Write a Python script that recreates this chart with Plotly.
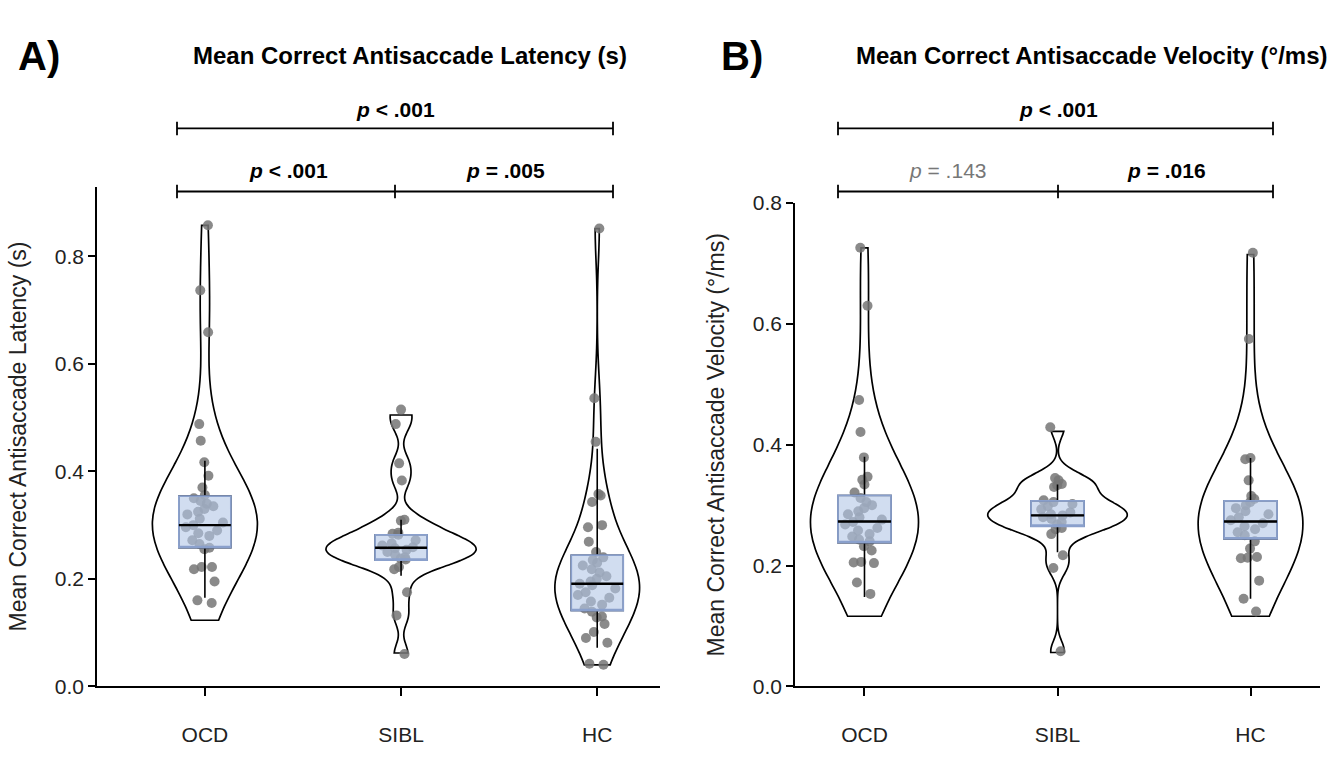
import plotly.graph_objects as go

W, H = 1337, 773
def px(x): return x / W
def py(y): return 1 - y / H

groups = ["OCD", "SIBL", "HC"]

# ---------------- Panel A: latency (s) ----------------
lat_OCD = [0.858, 0.737, 0.659, 0.488, 0.457, 0.417, 0.392, 0.370, 0.356,
           0.350, 0.345, 0.340, 0.335, 0.330, 0.325, 0.320, 0.312, 0.305, 0.300,
           0.296, 0.290, 0.285, 0.280, 0.272, 0.265,
           0.258, 0.255, 0.222, 0.222, 0.218, 0.195, 0.160, 0.155]
lat_SIBL = [0.515, 0.488, 0.415, 0.383, 0.310, 0.308, 0.286, 0.284, 0.282,
            0.272, 0.266, 0.262, 0.259, 0.257, 0.254, 0.250, 0.245, 0.240,
            0.238, 0.236, 0.222, 0.218, 0.175, 0.132, 0.060]
lat_HC = [0.852, 0.536, 0.455, 0.358, 0.355, 0.343, 0.300, 0.296, 0.269, 0.250,
          0.240, 0.235, 0.230, 0.225, 0.218, 0.212, 0.205, 0.200, 0.195, 0.191,
          0.188, 0.182, 0.175, 0.170, 0.165, 0.158, 0.152, 0.145,
          0.139, 0.130, 0.128, 0.116, 0.101, 0.090, 0.081, 0.042, 0.040]
lat_q1 = [0.258, 0.235, 0.141]
lat_med = [0.300, 0.258, 0.191]
lat_q3 = [0.354, 0.282, 0.244]
lat_wlo = [0.165, 0.206, 0.072]
lat_whi = [0.420, 0.310, 0.442]
lat_span_lo = [0.123, 0.062, 0.040]
lat_span_hi = [0.858, 0.505, 0.852]
lat_bw = [0.080, 0.020, 0.058]

# ---------------- Panel B: velocity (deg/ms) ----------------
vel_OCD = [0.726, 0.630, 0.474, 0.421, 0.379, 0.347, 0.342, 0.334, 0.321,
           0.312, 0.305, 0.300, 0.295, 0.290, 0.285, 0.280, 0.276, 0.272, 0.268,
           0.262, 0.258, 0.252, 0.248, 0.243, 0.240,
           0.232, 0.225, 0.206, 0.205, 0.204, 0.172, 0.153]
vel_SIBL = [0.429, 0.345, 0.341, 0.335, 0.333, 0.330, 0.308,
            0.305, 0.302, 0.298, 0.293, 0.288, 0.285, 0.283, 0.280, 0.277, 0.272, 0.268,
            0.262, 0.260, 0.252, 0.217, 0.196, 0.058]
vel_HC = [0.718, 0.575, 0.378, 0.376, 0.341, 0.315, 0.310,
          0.305, 0.300, 0.295, 0.290, 0.285, 0.280, 0.275, 0.270, 0.265, 0.260, 0.255, 0.250,
          0.240, 0.228, 0.214, 0.213, 0.212, 0.175, 0.145, 0.124]
vel_q1 = [0.238, 0.265, 0.244]
vel_med = [0.273, 0.283, 0.273]
vel_q3 = [0.316, 0.307, 0.307]
vel_wlo = [0.148, 0.222, 0.145]
vel_whi = [0.380, 0.334, 0.378]
vel_span_lo = [0.116, 0.056, 0.116]
vel_span_hi = [0.726, 0.422, 0.715]
vel_bw = [0.085, 0.017, 0.085]

fig = go.Figure()

VIOLIN_W = {"x": [0.535, 0.765, 0.43], "x2": [0.557, 0.72, 0.54]}
BOX_W = {"x": 0.265, "x2": 0.275}
PT_COLOR = "rgba(118,118,118,0.85)"
BOX_FILL = "rgba(178,198,230,0.6)"
BOX_EDGE = "#8aa0cc"

def add_panel(xa, ya, data, q1, med, q3, wlo, whi, slo, shi, bws):
    axk = dict(xaxis=xa, yaxis=ya)
    for i, g in enumerate(groups):
        vals = data[i]
        fig.add_trace(go.Violin(x=[g] * len(vals), y=vals, **axk,
                                line=dict(color="black", width=1.7), fillcolor="white",
                                points=False, spanmode="manual", span=[slo[i], shi[i]],
                                bandwidth=bws[i],
                                width=VIOLIN_W[xa][i], scalegroup=f"{xa}{g}", scalemode="width",
                                hoverinfo="skip", showlegend=False))
        fig.add_trace(go.Box(x=[g] * len(vals), y=vals, **axk, boxpoints="all", jitter=1.0,
                             pointpos=0, width=0.21, fillcolor="rgba(0,0,0,0)",
                             line=dict(color="rgba(0,0,0,0)", width=0),
                             marker=dict(color=PT_COLOR, size=10),
                             hoverinfo="skip", showlegend=False))
        fig.add_trace(go.Box(x=[g], q1=[q1[i]], median=[med[i]], q3=[q3[i]],
                             lowerfence=[wlo[i]], upperfence=[whi[i]], **axk,
                             width=BOX_W[xa], whiskerwidth=0, boxpoints=False,
                             fillcolor="rgba(0,0,0,0)", line=dict(color="black", width=1.6),
                             hoverinfo="skip", showlegend=False))
        fig.add_trace(go.Box(x=[g], q1=[q1[i]], median=[q1[i]], q3=[q3[i]],
                             lowerfence=[q1[i]], upperfence=[q3[i]], **axk,
                             width=BOX_W[xa], whiskerwidth=0, boxpoints=False,
                             fillcolor=BOX_FILL, line=dict(color=BOX_EDGE, width=1.8),
                             hoverinfo="skip", showlegend=False))
        fig.add_trace(go.Box(x=[g], q1=[med[i]], median=[med[i]], q3=[med[i]],
                             lowerfence=[med[i]], upperfence=[med[i]], **axk,
                             width=BOX_W[xa], whiskerwidth=0, boxpoints=False,
                             fillcolor="rgba(0,0,0,0)", line=dict(color="black", width=2.4),
                             hoverinfo="skip", showlegend=False))

add_panel("x", "y", [lat_OCD, lat_SIBL, lat_HC], lat_q1, lat_med, lat_q3,
          lat_wlo, lat_whi, lat_span_lo, lat_span_hi, lat_bw)
add_panel("x2", "y2", [vel_OCD, vel_SIBL, vel_HC], vel_q1, vel_med, vel_q3,
          vel_wlo, vel_whi, vel_span_lo, vel_span_hi, vel_bw)

FAM = "Liberation Sans, Arial, sans-serif"
XTICK_FONT = dict(family=FAM, size=21, color="#222")
YTICK_FONT = dict(family=FAM, size=21, color="#222")

axis_common = dict(showline=True, linecolor="black", linewidth=1.5, ticks="outside",
                   tickwidth=1.5, tickcolor="black", showgrid=False,
                   zeroline=False)

fig.update_layout(
    width=W, height=H, margin=dict(l=0, r=0, t=0, b=0),
    paper_bgcolor="white", plot_bgcolor="white",
    boxmode="overlay", violinmode="overlay", showlegend=False,
    xaxis=dict(domain=[px(97), px(660)], anchor="y", type="category",
               categoryorder="array", categoryarray=groups, range=[-0.55, 2.32],
               tickfont=XTICK_FONT, ticklen=8, ticklabelstandoff=21, **axis_common),
    yaxis=dict(domain=[py(695), py(180)], anchor="x", range=[0, 0.93],
               tickvals=[0, 0.2, 0.4, 0.6, 0.8], tickformat=".1f", tickfont=YTICK_FONT,
               ticklen=7,
               title=dict(text="Mean Correct Antisaccade Latency (s)",
                          font=dict(family=FAM, size=23, color="#222"),
                          standoff=22),
               **axis_common),
    xaxis2=dict(domain=[px(795), px(1320)], anchor="y2", type="category",
                categoryorder="array", categoryarray=groups, range=[-0.36, 2.36],
                tickfont=XTICK_FONT, ticklen=8, ticklabelstandoff=21, **axis_common),
    yaxis2=dict(domain=[py(695), py(197)], anchor="x2", range=[0, 0.8],
                tickvals=[0, 0.2, 0.4, 0.6, 0.8], tickformat=".1f", tickfont=YTICK_FONT,
                ticklen=7,
                title=dict(text="Mean Correct Antisaccade Velocity (°/ms)",
                           font=dict(family=FAM, size=23, color="#222"),
                           standoff=22),
                **axis_common),
)

annotations = []
def text(x, y, s, size, family=FAM, color="black"):
    annotations.append(dict(x=px(x), y=py(y), xref="paper", yref="paper", text=s,
                            showarrow=False, xanchor="center", yanchor="middle",
                            font=dict(family=family, size=size, color=color)))

text(39, 45, "<b>A)</b>", 40)
text(742, 45, "<b>B)</b>", 40)
text(410, 45, "<b>Mean Correct Antisaccade Latency (s)</b>", 24)
text(1092, 45, "<b>Mean Correct Antisaccade Velocity (°/ms)</b>", 24)

shapes = []
def bracket(xs, y):
    shapes.append(dict(type="line", xref="paper", yref="paper", x0=px(xs[0]), x1=px(xs[-1]),
                       y0=py(y), y1=py(y), line=dict(color="black", width=1.8)))
    for xv in xs:
        shapes.append(dict(type="line", xref="paper", yref="paper", x0=px(xv), x1=px(xv),
                           y0=py(y - 7), y1=py(y + 7), line=dict(color="black", width=1.8)))

# Panel A brackets
bracket([177, 613], 120)
bracket([177, 395, 613], 185)
text(395, 100, "<b><i>p</i> < .001</b>", 21)
text(288, 163, "<b><i>p</i> < .001</b>", 21)
text(505, 163, "<b><i>p</i> = .005</b>", 21)
# Panel B brackets
bracket([838, 1273], 120)
bracket([838, 1058, 1273], 185)
text(1058, 100, "<b><i>p</i> < .001</b>", 21)
text(948, 163, "<i>p</i> = .143", 21, color="#777")
text(1166, 163, "<b><i>p</i> = .016</b>", 21)

fig.update_layout(annotations=annotations, shapes=shapes)
fig.write_html("out.html")
